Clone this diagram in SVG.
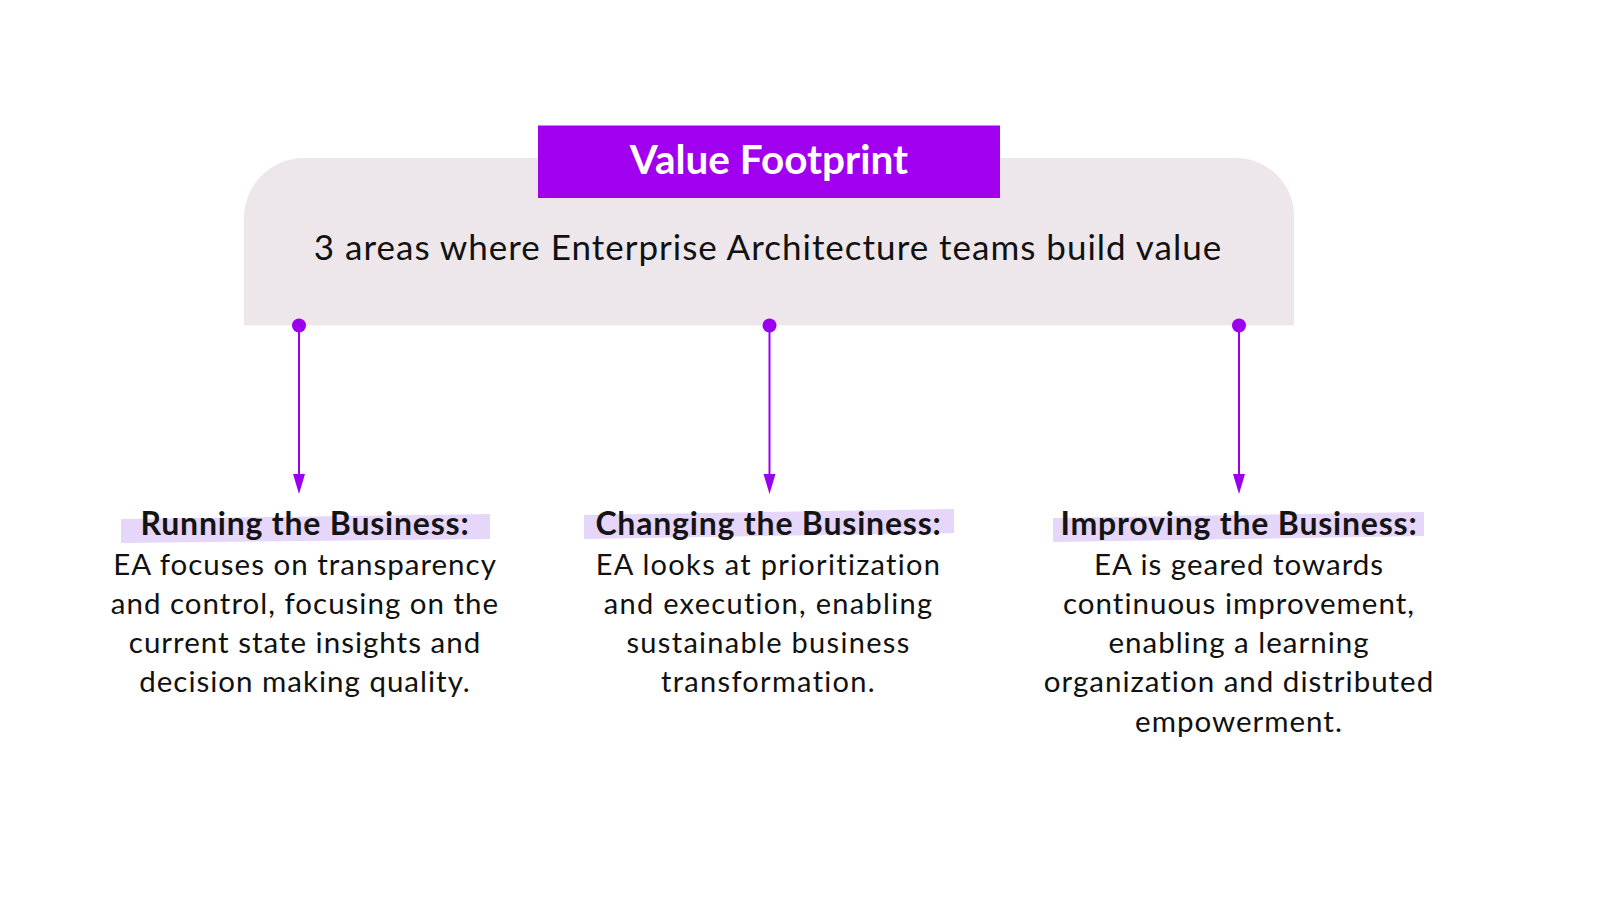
<svg xmlns="http://www.w3.org/2000/svg" width="1600" height="900" viewBox="0 0 1600 900">
<defs>
<style>
.hd{font-family:Lato,"Liberation Sans",sans-serif;font-weight:700;font-size:32px;fill:#141414;text-anchor:middle;letter-spacing:0.8px}
.bd1{font-family:Lato,"Liberation Sans",sans-serif;font-size:29.5px;fill:#111;text-anchor:middle;letter-spacing:1px}
.bd2{font-family:Lato,"Liberation Sans",sans-serif;font-size:29px;fill:#111;text-anchor:middle;letter-spacing:1.3px}
.hl{fill:#E6D6FA}
.ln{stroke:#9B00EE;stroke-width:2;fill:none}
.dot{fill:#9B00EE}
</style>
</defs>
<rect width="1600" height="900" fill="#fff"/>
<g id="header">
<path d="M244,325.5 L244,218 A60,60 0 0 1 304,158 L1236,158 A58,58 0 0 1 1294,216 L1294,325.5 Z" fill="#EDE7EC"/>
<rect x="538" y="125.5" width="462" height="72.5" fill="#A000EE"/>
<text x="769" y="174" font-family="Lato,'Liberation Sans',sans-serif" font-weight="700" font-size="40.5" fill="#fff" text-anchor="middle">Value Footprint</text>
<text x="768" y="260" font-family="Lato,'Liberation Sans',sans-serif" font-size="35" letter-spacing="1" fill="#111" text-anchor="middle">3 areas where Enterprise Architecture teams build value</text>
</g>
<g id="connectors">
<circle class="dot" cx="299" cy="325.5" r="7"/>
<line class="ln" x1="299" y1="325.5" x2="299" y2="474"/>
<path class="dot" d="M293,474 L305,474 L299,494 Z"/>
<circle class="dot" cx="769.5" cy="325.5" r="7"/>
<line class="ln" x1="769.5" y1="325.5" x2="769.5" y2="474"/>
<path class="dot" d="M763.5,474 L775.5,474 L769.5,494 Z"/>
<circle class="dot" cx="1239" cy="325.5" r="7"/>
<line class="ln" x1="1239" y1="325.5" x2="1239" y2="474"/>
<path class="dot" d="M1233,474 L1245,474 L1239,494 Z"/>
</g>
<g id="running">
<polygon class="hl" points="121,519 490,514 490,539 121,543"/>
<text class="hd" x="305" y="535">Running the Business:</text>
<text class="bd1" x="305" y="575">EA focuses on transparency</text>
<text class="bd1" x="305" y="614">and control, focusing on the</text>
<text class="bd1" x="305" y="653">current state insights and</text>
<text class="bd1" x="305" y="692">decision making quality.</text>
</g>
<g id="changing">
<polygon class="hl" points="584,515 954,509 954,533 584,539"/>
<text class="hd" x="768.5" y="535">Changing the Business:</text>
<text class="bd2" x="768.5" y="575">EA looks at prioritization</text>
<text class="bd2" x="768.5" y="614">and execution, enabling</text>
<text class="bd2" x="768.5" y="653">sustainable business</text>
<text class="bd2" x="768.5" y="692">transformation.</text>
</g>
<g id="improving">
<polygon class="hl" points="1053,518 1424,512 1424,536 1053,542"/>
<text class="hd" x="1239" y="535">Improving the Business:</text>
<text class="bd1" x="1239" y="575">EA is geared towards</text>
<text class="bd1" x="1239" y="614">continuous improvement,</text>
<text class="bd1" x="1239" y="653">enabling a learning</text>
<text class="bd1" x="1239" y="692">organization and distributed</text>
<text class="bd1" x="1239" y="732">empowerment.</text>
</g>
</svg>
